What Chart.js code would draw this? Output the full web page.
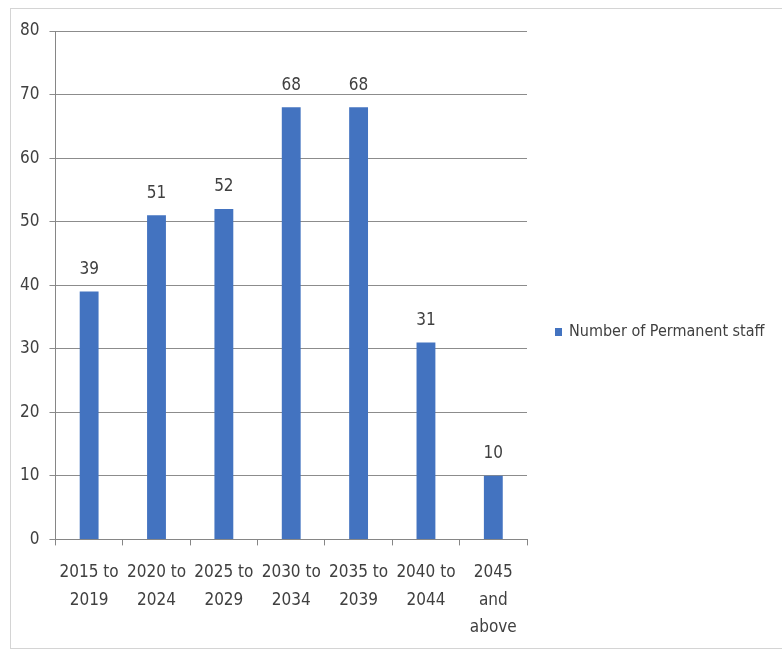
<!DOCTYPE html>
<html>
<head>
<meta charset="utf-8">
<script src="https://cdn.jsdelivr.net/npm/chart.js@4"></script>
<style>
  body { margin: 0; background: #fff; }
</style>
</head>
<body>
<canvas id="staffChart" width="782" height="655"></canvas>
<script>
// chart values
const categories = [
  ["2015 to", "2019"],
  ["2020 to", "2024"],
  ["2025 to", "2029"],
  ["2030 to", "2034"],
  ["2035 to", "2039"],
  ["2040 to", "2044"],
  ["2045", "and", "above"],
];
const permanentStaff = [39, 51, 52, 68, 68, 31, 10];
const seriesName = "Number of Permanent staff";

const fontFamily = "'Liberation Sans Narrow', 'DejaVu Sans Condensed', sans-serif";
const textColor = "#404040";
const barColor = "#4373c0";

// values above the bars
const valueLabels = {
  id: "valueLabels",
  afterDatasetsDraw(chart) {
    const ctx = chart.ctx;
    const meta = chart.getDatasetMeta(0);
    ctx.save();
    ctx.font = "17px " + fontFamily;
    ctx.fillStyle = textColor;
    ctx.textAlign = "center";
    ctx.textBaseline = "middle";
    meta.data.forEach((bar, i) => {
      ctx.fillText(String(chart.data.datasets[0].data[i]), bar.x, bar.y - 22);
    });
    ctx.restore();
  },
};

// legend on the right, in the space kept free by the padding
const sideLegend = {
  id: "sideLegend",
  afterDraw(chart) {
    const ctx = chart.ctx;
    const area = chart.chartArea;
    const x = area.right + 28;
    const y = 332;
    ctx.save();
    ctx.fillStyle = barColor;
    ctx.fillRect(x, y - 4, 7, 8);
    ctx.font = "16px " + fontFamily;
    ctx.fillStyle = textColor;
    ctx.textBaseline = "middle";
    ctx.fillText(chart.data.datasets[0].label, x + 14, y);
    ctx.restore();
  },
};

// thin frame round the chart
const frame = {
  id: "frame",
  beforeDraw(chart) {
    const ctx = chart.ctx;
    ctx.save();
    ctx.strokeStyle = "#d4d4d4";
    ctx.lineWidth = 1;
    ctx.strokeRect(10.5, 8.5, 775, 640);
    ctx.restore();
  },
};

new Chart(document.getElementById("staffChart"), {
  type: "bar",
  data: {
    labels: categories,
    datasets: [
      {
        label: seriesName,
        data: permanentStaff,
        backgroundColor: barColor,
        categoryPercentage: 1,
        barPercentage: 0.28,
      },
    ],
  },
  options: {
    responsive: false,
    animation: false,
    layout: {
      padding: { top: 31, left: 10, right: 255, bottom: 0 },
    },
    plugins: {
      legend: { display: false },
      tooltip: { enabled: false },
    },
    scales: {
      x: {
        grid: {
          offset: true,
          drawOnChartArea: false,
          color: "#868686",
          tickLength: 6,
        },
        border: { color: "#868686" },
        ticks: {
          font: { family: fontFamily, size: 17, lineHeight: 1.6 },
          color: textColor,
          maxRotation: 0,
          autoSkip: false,
          padding: 14,
        },
      },
      y: {
        min: 0,
        max: 80,
        ticks: {
          stepSize: 10,
          font: { family: fontFamily, size: 17 },
          color: textColor,
          padding: 10,
        },
        grid: { color: "#8c8c8c", tickLength: 6 },
        border: { color: "#868686" },
      },
    },
  },
  plugins: [valueLabels, sideLegend, frame],
});
</script>
</body>
</html>
